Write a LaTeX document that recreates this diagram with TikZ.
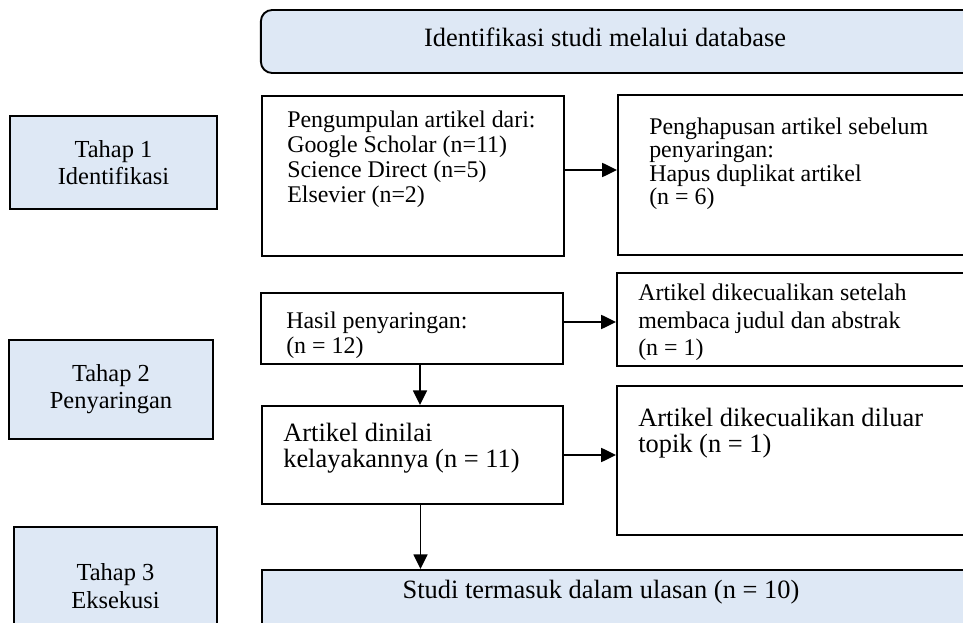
\documentclass[tikz,border=0pt]{standalone}
\usepackage{fontspec}
\setmainfont{Liberation Serif}
\usetikzlibrary{arrows.meta}
\definecolor{birumuda}{HTML}{DEE8F5}

\tikzset{
  kotak/.style={rectangle,draw,line width=1.35pt,inner sep=0pt},
  tahap/.style={kotak,fill=birumuda,align=center,font=\fontsize{17.4pt}{19.4pt}\selectfont},
  isi/.style={anchor=base west,inner sep=0pt,align=left,font=\fontsize{17pt}{#1}\selectfont},
  isi/.default=17.8pt,
  isibesar/.style={anchor=base west,inner sep=0pt,align=left,font=\fontsize{18.8pt}{#1}\selectfont},
  isibesar/.default=19.2pt,
  panah/.style={line width=1.1pt,-{Triangle[length=10.5pt,width=10pt]}}
}

\begin{document}
\begin{tikzpicture}[x=0.025cm,y=-0.025cm]
\useasboundingbox (0,0) rectangle (963,623);
\clip (0,0) rectangle (963,623);

% judul
\node[kotak,fill=birumuda,rounded corners=8pt,minimum width=18.475cm,minimum height=1.575cm] (db) at (630.5,41.5) {};
\node[anchor=base,inner sep=0pt,font=\fontsize{18.8pt}{20pt}\selectfont] (judul) at (605,47) {Identifikasi studi melalui database};

% tahap
\node[tahap,minimum width=5.175cm,minimum height=2.325cm] (tahap1) at (113.5,162.5) {Tahap 1\\Identifikasi};
\node[tahap,minimum width=5.1cm,minimum height=2.475cm] (tahap2) at (111,389.5) {Tahap 2\\Penyaringan};
\node[tahap,minimum width=5.075cm,minimum height=2.95cm] (tahap3) at (115.5,586) {Tahap 3\\Eksekusi};

% identifikasi (text placed by its last baseline)
\node[kotak,minimum width=7.55cm,minimum height=4cm] (kumpul) at (413,176) {};
\node[isi] (tkumpul) at (287,203) {Pengumpulan artikel dari:\\Google Scholar (n=11)\\Science Direct (n=5)\\Elsevier (n=2)};
\node[kotak,minimum width=9.55cm,minimum height=4cm] (hapus) at (809,175) {};
\node[isi=16.8pt] (thapus) at (649,205) {Penghapusan artikel sebelum\\penyaringan:\\Hapus duplikat artikel\\(n = 6)};

% penyaringan
\node[kotak,minimum width=7.55cm,minimum height=1.775cm] (hasil) at (412,328.5) {};
\node[isi] (thasil) at (286,354) {Hasil penyaringan:\\(n = 12)};
\node[kotak,minimum width=9.575cm,minimum height=2.325cm] (keluar1) at (808.5,319.5) {};
\node[isi=19.6pt] (tkeluar1) at (638,356) {Artikel dikecualikan setelah\\membaca judul dan abstrak\\(n = 1)};
\node[kotak,minimum width=7.525cm,minimum height=2.45cm] (nilai) at (412.5,455) {};
\node[isibesar] (tnilai) at (283,468) {Artikel dinilai\\kelayakannya (n = 11)};
\node[kotak,minimum width=9.575cm,minimum height=3.725cm] (keluar2) at (808.5,460.5) {};
\node[isibesar=18.8pt] (tkeluar2) at (638,453) {Artikel dikecualikan diluar\\topik (n = 1)};

% eksekusi
\node[kotak,fill=birumuda,minimum width=18.45cm,minimum height=2cm] (studi) at (631,610) {};
\node[anchor=base,inner sep=0pt,font=\fontsize{18.8pt}{20pt}\selectfont] (tstudi) at (601,598) {Studi termasuk dalam ulasan (n = 10)};

\draw[panah] ([yshift=0.15cm]kumpul.east) -- ([yshift=0.15cm]kumpul.east -| hapus.west);
\draw[panah] ([yshift=0.1625cm]hasil.east) -- ([yshift=0.1625cm]hasil.east -| keluar1.west);
\draw[panah] (nilai.east) -- (nilai.east -| keluar2.west);
\draw[panah] ([xshift=0.2cm]hasil.south) -- ([xshift=0.2cm]hasil.south |- nilai.north);
\draw[panah] ([xshift=0.2cm]nilai.south) -- ([xshift=0.2cm]nilai.south |- studi.north);

\end{tikzpicture}
\end{document}
